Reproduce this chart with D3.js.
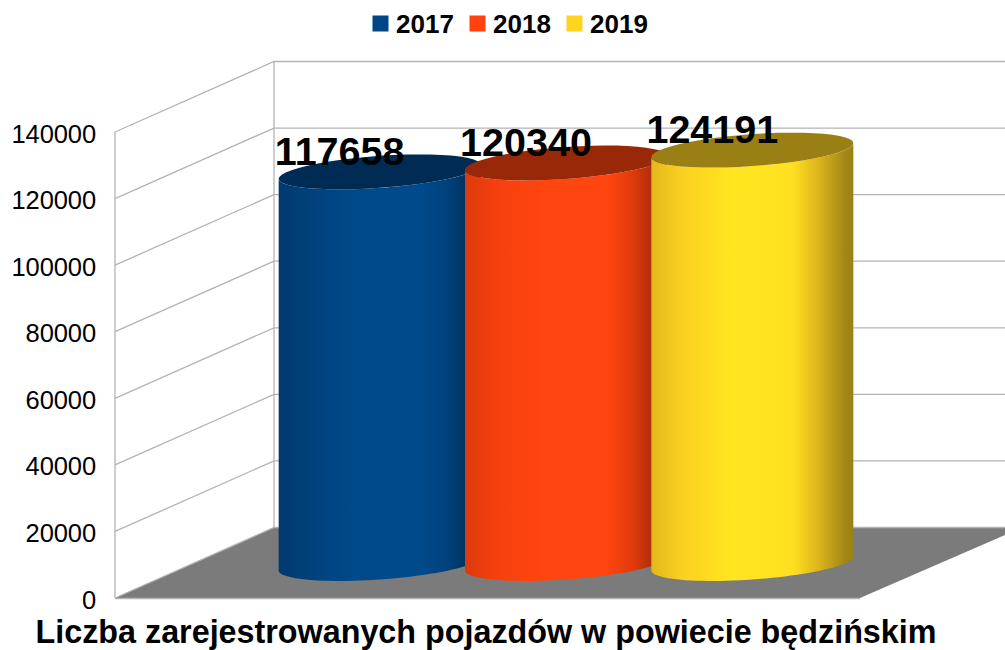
<!DOCTYPE html>
<html><head><meta charset="utf-8">
<script src="https://cdn.jsdelivr.net/npm/d3@7"></script>
<style>html,body{margin:0;padding:0;background:#fff}svg{display:block}text{font-family:"Liberation Sans",Arial,sans-serif}</style>
</head><body><svg id="c" width="1005" height="650"></svg>
<script>
const years = ["2017","2018","2019"];
const values = [117658,120340,124191];
const colors = ["#004586","#ff420e","#ffd320"];
const topColors = ["#002b54","#992808","#9a7f14"];
const gradStops = [
  ["#003a70","#00417a","#004a8c","#004a8c","#00427c","#002f5c","#002b54"],
  ["#dc3a0c","#f5400e","#ff4510","#ff4510","#e03a0c","#a32b08","#992808"],
  ["#e0b81c","#fbd020","#ffe620","#ffe020","#dcb41c","#a58a15","#9a7f14"]
];
const stopOffsets = [0,0.15,0.4,0.7,0.83,0.95,1];
const ticks = d3.range(0,140001,20000);
const title = "Liczba zarejestrowanych pojazdów w powiecie będzińskim";

const svg = d3.select("#c");
const W = 1005;
const yFront = d3.scaleLinear().domain([0,140000]).range([598,132]);
const depthX = 159, depthY = 70.5;
const xL = 115, xB = xL+depthX;
const yBack = v => yFront(v)-depthY;
const gridColor = "#b3b3b3";

const defs = svg.append("defs");
years.forEach((y,i)=>{
  const g = defs.append("linearGradient").attr("id","g"+i).attr("x1",0).attr("x2",1).attr("y1",0).attr("y2",0);
  stopOffsets.forEach((o,j)=>g.append("stop").attr("offset",o).attr("stop-color",gradStops[i][j]));
});

// floor
svg.append("polygon")
  .attr("points",[[xL,598],[xB,yBack(0)],[W,yBack(0)],[W,535],[860,598]].join(" "))
  .attr("fill","#7b7b7b");

// walls and grid
const grid = svg.append("g").attr("fill","none").attr("stroke",gridColor).attr("stroke-width",1.3);
ticks.forEach(t=>{
  grid.append("path").attr("d",`M${xL},${yFront(t)}L${xB},${yBack(t)}L${W},${yBack(t)}`);
});
grid.append("line").attr("x1",xL).attr("x2",xL).attr("y1",yFront(0)).attr("y2",yFront(140000));
grid.append("line").attr("x1",xB).attr("x2",xB).attr("y1",yBack(0)).attr("y2",yBack(140000));
grid.append("line").attr("x1",xL).attr("x2",860).attr("y1",598.5).attr("y2",598.5);

// axis labels
svg.append("g").selectAll("text").data(ticks).join("text")
  .attr("x",96).attr("y",d=>yFront(d)+10.5).attr("text-anchor","end")
  .attr("font-size",25.5).attr("letter-spacing",-0.1).attr("fill","#000").text(d=>d);

// cylinders
const xBand = d3.scaleBand().domain(years).range([286.5,845.5]).padding(0);
const rx = 101, ry = 16, skew = 7, baseCy = 563.5;
const pxPerUnit = (yFront(0)-yFront(140000))/140000;
const hY = v => baseCy - v*pxPerUnit;
const ell = (cx,cy,from,to)=>{
  const pts=[];
  for(let k=0;k<=48;k++){
    const t=from+(to-from)*k/48;
    pts.push([cx+rx*Math.cos(t), cy-skew*Math.cos(t)+ry*Math.sin(t)]);
  }
  return pts;
};
const line = d3.line();
years.forEach((y,i)=>{
  const cx = xBand(y)+xBand.bandwidth()/2;
  const cyT = hY(values[i]);
  const side = ell(cx,baseCy,0,Math.PI).concat(ell(cx,cyT,Math.PI,0));
  svg.append("path").attr("d",line(side)+"Z").attr("fill",`url(#g${i})`);
  svg.append("path").attr("d",line(ell(cx,cyT,0,2*Math.PI))+"Z").attr("fill",topColors[i]);
});
// value labels
years.forEach((y,i)=>{
  const cx = xBand(y)+xBand.bandwidth()/2;
  svg.append("text").attr("x",cx-40).attr("y",hY(values[i])-7).attr("text-anchor","middle")
    .attr("font-size",39.5).attr("font-weight","bold").attr("fill","#000").text(values[i]);
});

// legend
const legendX = [372,469,566];
years.forEach((y,i)=>{
  svg.append("rect").attr("x",legendX[i]+0.5).attr("y",15.5).attr("width",16).attr("height",16).attr("fill",colors[i]);
  svg.append("text").attr("x",legendX[i]+24).attr("y",33).attr("font-size",26).attr("font-weight","bold").attr("fill","#000").text(y);
});

// title
svg.append("text").attr("x",486).attr("y",643).attr("text-anchor","middle")
  .attr("font-size",32.3).attr("font-weight","bold").attr("fill","#000").text(title);
</script></body></html>
